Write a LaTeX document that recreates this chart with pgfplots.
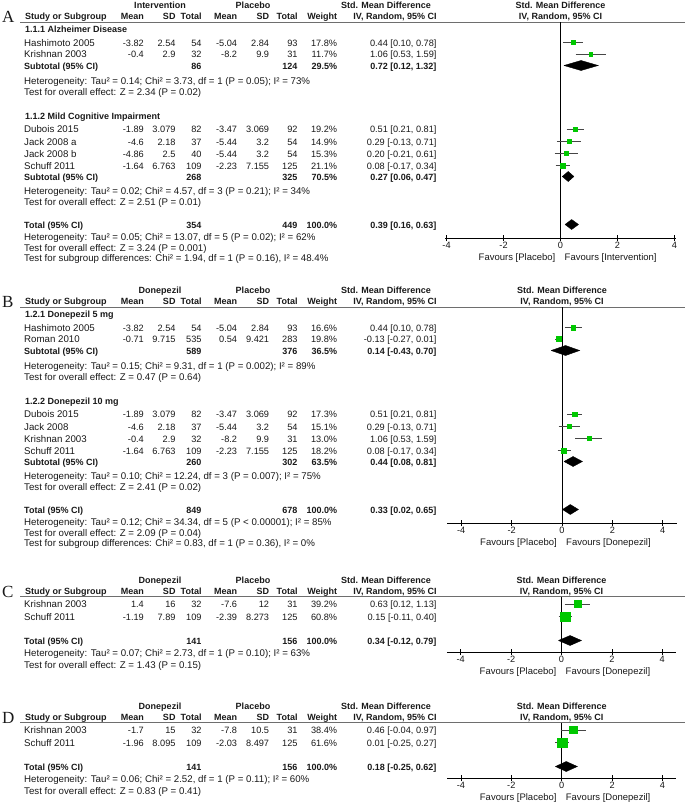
\documentclass[border=0pt]{standalone}
\usepackage{fontspec}
\setmainfont{Liberation Sans}
\newfontfamily\seriff{Liberation Serif}
\usepackage{pgfplots}
\pgfplotsset{compat=1.18}
\definecolor{fpgreen}{RGB}{0,200,0}
\definecolor{txt}{RGB}{25,25,25}
\definecolor{cicol}{RGB}{70,70,70}
\definecolor{rulecol}{RGB}{110,110,110}
\newcommand\fs{\fontsize{9.7}{11}\selectfont}
\newcommand\fn{\fontsize{9.2}{11}\selectfont}
\newcommand\fb{\fontsize{9.0}{11}\selectfont\bfseries}
\newcommand\ff{\fontsize{9.5}{11}\selectfont}
\newcommand\tf{\fontsize{9.2}{10}\selectfont}
\tikzset{
 L/.style={inner sep=0pt, anchor=base west, font=\fs, text=txt},
 R/.style={inner sep=0pt, anchor=base east, font=\fn, text=txt},
 LB/.style={inner sep=0pt, anchor=base west, font=\fb, text=txt},
 RB/.style={inner sep=0pt, anchor=base east, font=\fb, text=txt},
 CB/.style={inner sep=0pt, anchor=base, font=\fb, text=txt},
 FL/.style={inner sep=0pt, anchor=base west, font=\ff, text=txt},
 FR/.style={inner sep=0pt, anchor=base east, font=\ff, text=txt},
 rule/.style={draw=rulecol, line width=1pt},
}
% study row: y name m1 sd1 n1 m2 sd2 n2 w
\newcommand\sr[9]{%
 \node[L] at (24,#1) {#2};
 \node[R] at (144,#1) {#3};
 \node[R] at (175.7,#1) {#4};
 \node[R] at (201.7,#1) {#5};
 \node[R] at (237.3,#1) {#6};
 \node[R] at (269.3,#1) {#7};
 \node[R] at (297.7,#1) {#8};
 \node[R] at (337.3,#1) {#9};}
\newcommand\ci[2]{\node[R] at (436.7,#1) {#2};}
% total row: y label n1 n2 w ci
\newcommand\tot[6]{%
 \node[LB] at (24,#1) {#2};
 \node[RB] at (201.7,#1) {#3};
 \node[RB] at (297.7,#1) {#4};
 \node[RB] at (337.3,#1) {#5};
 \node[RB] at (436.7,#1) {#6};}
% header: y(baseline row 2) grp1 grp2 zero-x
\newcommand\hd[4]{%
 \node[CB] at (160,#1-11.5) {#2};
 \node[CB] at (253,#1-11.5) {#3};
 \node[CB] at (386,#1-11.5) {Std. Mean Difference};
 \node[CB] at (#4,#1-11.5) {Std. Mean Difference};
 \node[LB] at (25,#1) {Study or Subgroup};
 \node[RB] at (144,#1) {Mean};
 \node[RB] at (175.7,#1) {SD};
 \node[RB] at (201.7,#1) {Total};
 \node[RB] at (237.3,#1) {Mean};
 \node[RB] at (269.3,#1) {SD};
 \node[RB] at (297.7,#1) {Total};
 \node[RB] at (337.3,#1) {Weight};
 \node[CB] at (395,#1) {IV, Random, 95\% CI};
 \node[CB] at (#4,#1) {IV, Random, 95\% CI};}
\newcommand\tx[2]{\node[L] at (24,#1) {#2};}
\newcommand\grp[2]{\node[LB] at (25,#1) {#2};}
\newcommand\fav[4]{% y zero left right
 \node[FR] at (#2-5,#1) {#3};
 \node[FL] at (#2+4,#1) {#4};}
\newcommand\letter[2]{\node[inner sep=0pt, anchor=base west, font=\seriff\fontsize{17}{17}\selectfont, text=txt] at (2,#1) {#2};}

\pgfplotsset{
 fp/.style={scale only axis, clip=false, axis x line*=bottom, axis y line=none,
   xtick={-4,-2,0,2,4}, xticklabels={-4,-2,0,2,4}, xtick align=center,
   major tick length=6pt, tick style={black, line width=0.8pt},
   axis line style={black, line width=0.8pt},
   xticklabel style={font=\tf, inner sep=0pt, text=txt, yshift=-0.5pt},
   anchor=south west},
 cil/.style={cicol, line width=0.9pt, mark=none, forget plot},
 sq/.style={only marks, mark=square*, mark size=#1, mark options={draw=fpgreen, fill=fpgreen}, forget plot},
 dia/.style={draw=black, fill=black, mark=none, line width=0.4pt, forget plot},
 zl/.style={black, line width=0.8pt, mark=none, forget plot},
}

\begin{document}
\begin{tikzpicture}
\useasboundingbox (0pt,0pt) rectangle (685pt,-803pt);
\begin{scope}[x=1pt,y=-1pt]
% ================= Panel A =================
\letter{22}{A}
\hd{19.8}{Intervention}{Placebo}{560.5}
\draw[rule] (20,22) -- (685,22);
\grp{32.5}{1.1.1 Alzheimer Disease}
\sr{46}{Hashimoto 2005}{-3.82}{2.54}{54}{-5.04}{2.84}{93}{17.8\%}\ci{46}{0.44 [0.10, 0.78]}
\sr{57.5}{Krishnan 2003}{-0.4}{2.9}{32}{-8.2}{9.9}{31}{11.7\%}\ci{57.5}{1.06 [0.53, 1.59]}
\tot{69}{Subtotal (95\% CI)}{86}{124}{29.5\%}{0.72 [0.12, 1.32]}
\tx{84.5}{Heterogeneity: Tau² = 0.14; Chi² = 3.73, df = 1 (P = 0.05); I² = 73\%}
\tx{95}{Test for overall effect: Z = 2.34 (P = 0.02)}
\grp{119}{1.1.2 Mild Cognitive Impairment}
\sr{132.5}{Dubois 2015}{-1.89}{3.079}{82}{-3.47}{3.069}{92}{19.2\%}\ci{132.5}{0.51 [0.21, 0.81]}
\sr{145}{Jack 2008 a}{-4.6}{2.18}{37}{-5.44}{3.2}{54}{14.9\%}\ci{145}{0.29 [-0.13, 0.71]}
\sr{157}{Jack 2008 b}{-4.86}{2.5}{40}{-5.44}{3.2}{54}{15.3\%}\ci{157}{0.20 [-0.21, 0.61]}
\sr{169}{Schuff 2011}{-1.64}{6.763}{109}{-2.23}{7.155}{125}{21.1\%}\ci{169}{0.08 [-0.17, 0.34]}
\tot{180}{Subtotal (95\% CI)}{268}{325}{70.5\%}{0.27 [0.06, 0.47]}
\tx{194}{Heterogeneity: Tau² = 0.02; Chi² = 4.57, df = 3 (P = 0.21); I² = 34\%}
\tx{205}{Test for overall effect: Z = 2.51 (P = 0.01)}
\tot{228}{Total (95\% CI)}{354}{449}{100.0\%}{0.39 [0.16, 0.63]}
\tx{240.5}{Heterogeneity: Tau² = 0.05; Chi² = 13.07, df = 5 (P = 0.02); I² = 62\%}
\tx{251}{Test for overall effect: Z = 3.24 (P = 0.001)}
\tx{261.8}{Test for subgroup differences: Chi² = 1.94, df = 1 (P = 0.16), I² = 48.4\%}
\fav{260}{560.5}{Favours [Placebo]}{Favours [Intervention]}
% ================= Panel B =================
\begin{scope}[yshift=-285pt]
\letter{22}{B}
\hd{19.8}{Donepezil}{Placebo}{562}
\draw[rule] (20,22) -- (685,22);
\grp{32.5}{1.2.1 Donepezil 5 mg}
\sr{46}{Hashimoto 2005}{-3.82}{2.54}{54}{-5.04}{2.84}{93}{16.6\%}\ci{46}{0.44 [0.10, 0.78]}
\sr{57.5}{Roman 2010}{-0.71}{9.715}{535}{0.54}{9.421}{283}{19.8\%}\ci{57.5}{-0.13 [-0.27, 0.01]}
\tot{69}{Subtotal (95\% CI)}{589}{376}{36.5\%}{0.14 [-0.43, 0.70]}
\tx{84.5}{Heterogeneity: Tau² = 0.15; Chi² = 9.31, df = 1 (P = 0.002); I² = 89\%}
\tx{95}{Test for overall effect: Z = 0.47 (P = 0.64)}
\grp{119}{1.2.2 Donepezil 10 mg}
\sr{132.5}{Dubois 2015}{-1.89}{3.079}{82}{-3.47}{3.069}{92}{17.3\%}\ci{132.5}{0.51 [0.21, 0.81]}
\sr{145}{Jack 2008}{-4.6}{2.18}{37}{-5.44}{3.2}{54}{15.1\%}\ci{145}{0.29 [-0.13, 0.71]}
\sr{157}{Krishnan 2003}{-0.4}{2.9}{32}{-8.2}{9.9}{31}{13.0\%}\ci{157}{1.06 [0.53, 1.59]}
\sr{169}{Schuff 2011}{-1.64}{6.763}{109}{-2.23}{7.155}{125}{18.2\%}\ci{169}{0.08 [-0.17, 0.34]}
\tot{180}{Subtotal (95\% CI)}{260}{302}{63.5\%}{0.44 [0.08, 0.81]}
\tx{194}{Heterogeneity: Tau² = 0.10; Chi² = 12.24, df = 3 (P = 0.007); I² = 75\%}
\tx{205}{Test for overall effect: Z = 2.41 (P = 0.02)}
\tot{228}{Total (95\% CI)}{849}{678}{100.0\%}{0.33 [0.02, 0.65]}
\tx{240.5}{Heterogeneity: Tau² = 0.12; Chi² = 34.34, df = 5 (P < 0.00001); I² = 85\%}
\tx{251}{Test for overall effect: Z = 2.09 (P = 0.04)}
\tx{261.8}{Test for subgroup differences: Chi² = 0.83, df = 1 (P = 0.36), I² = 0\%}
\fav{260}{562}{Favours [Placebo]}{Favours [Donepezil]}
\end{scope}
% ================= Panel C =================
\begin{scope}[yshift=-574pt]
\letter{23.7}{C}
\hd{20.5}{Donepezil}{Placebo}{561.5}
\draw[rule] (20,22.7) -- (685,22.7);
\sr{33.5}{Krishnan 2003}{1.4}{16}{32}{-7.6}{12}{31}{39.2\%}\ci{33.5}{0.63 [0.12, 1.13]}
\sr{46}{Schuff 2011}{-1.19}{7.89}{109}{-2.39}{8.273}{125}{60.8\%}\ci{46}{0.15 [-0.11, 0.40]}
\tot{70}{Total (95\% CI)}{141}{156}{100.0\%}{0.34 [-0.12, 0.79]}
\tx{82.5}{Heterogeneity: Tau² = 0.07; Chi² = 2.73, df = 1 (P = 0.10); I² = 63\%}
\tx{94.5}{Test for overall effect: Z = 1.43 (P = 0.15)}
\fav{100.2}{561.5}{Favours [Placebo]}{Favours [Donepezil]}
\end{scope}
% ================= Panel D =================
\begin{scope}[yshift=-700pt]
\letter{23.7}{D}
\hd{20.5}{Donepezil}{Placebo}{561.7}
\draw[rule] (20,22.7) -- (685,22.7);
\sr{33.5}{Krishnan 2003}{-1.7}{15}{32}{-7.8}{10.5}{31}{38.4\%}\ci{33.5}{0.46 [-0.04, 0.97]}
\sr{46}{Schuff 2011}{-1.96}{8.095}{109}{-2.03}{8.497}{125}{61.6\%}\ci{46}{0.01 [-0.25, 0.27]}
\tot{70}{Total (95\% CI)}{141}{156}{100.0\%}{0.18 [-0.25, 0.62]}
\tx{82.5}{Heterogeneity: Tau² = 0.06; Chi² = 2.52, df = 1 (P = 0.11); I² = 60\%}
\tx{94.5}{Test for overall effect: Z = 0.83 (P = 0.41)}
\fav{100.2}{561.7}{Favours [Placebo]}{Favours [Donepezil]}
\end{scope}
\end{scope}

% ---------- Axis A ----------
\begin{axis}[fp, at={(445.1pt,-238.3pt)}, width=230.85pt, height=216.3pt,
  xmin=-4.05, xmax=4.05, ymin=-238.3, ymax=-22]
\addplot[zl] coordinates {(0,-22) (0,-238.3)};
\addplot[cil] coordinates {(0.10,-42.5) (0.78,-42.5)};
\addplot[sq=2.1pt] coordinates {(0.44,-42.5)};
\addplot[cil] coordinates {(0.53,-54) (1.59,-54)};
\addplot[sq=1.75pt] coordinates {(1.06,-54)};
\addplot[dia] coordinates {(0.12,-65.5) (0.72,-60.5) (1.32,-65.5) (0.72,-70.5) (0.12,-65.5)};
\addplot[cil] coordinates {(0.21,-129) (0.81,-129)};
\addplot[sq=2.3pt] coordinates {(0.51,-129)};
\addplot[cil] coordinates {(-0.13,-141.5) (0.71,-141.5)};
\addplot[sq=2.0pt] coordinates {(0.29,-141.5)};
\addplot[cil] coordinates {(-0.21,-153.5) (0.61,-153.5)};
\addplot[sq=2.05pt] coordinates {(0.20,-153.5)};
\addplot[cil] coordinates {(-0.17,-165.5) (0.34,-165.5)};
\addplot[sq=2.5pt] coordinates {(0.08,-165.5)};
\addplot[dia] coordinates {(0.06,-176.5) (0.27,-171.5) (0.47,-176.5) (0.27,-181.5) (0.06,-176.5)};
\addplot[dia] coordinates {(0.16,-224.5) (0.39,-219.5) (0.63,-224.5) (0.39,-229.5) (0.16,-224.5)};
\end{axis}

% ---------- Axis B ----------
\begin{axis}[fp, at={(447.34pt,-523.3pt)}, width=229.32pt, height=216.3pt,
  xmin=-4.55, xmax=4.55, ymin=-523.3, ymax=-307]
\addplot[zl] coordinates {(0,-307) (0,-523.3)};
\addplot[cil] coordinates {(0.10,-327.5) (0.78,-327.5)};
\addplot[sq=2.2pt] coordinates {(0.44,-327.5)};
\addplot[cil] coordinates {(-0.27,-339) (0.01,-339)};
\addplot[sq=2.45pt] coordinates {(-0.13,-339)};
\addplot[dia] coordinates {(-0.43,-350.5) (0.14,-345.5) (0.70,-350.5) (0.14,-355.5) (-0.43,-350.5)};
\addplot[cil] coordinates {(0.21,-414) (0.81,-414)};
\addplot[sq=2.3pt] coordinates {(0.51,-414)};
\addplot[cil] coordinates {(-0.13,-426.5) (0.71,-426.5)};
\addplot[sq=2.1pt] coordinates {(0.29,-426.5)};
\addplot[cil] coordinates {(0.53,-438.5) (1.59,-438.5)};
\addplot[sq=2.0pt] coordinates {(1.06,-438.5)};
\addplot[cil] coordinates {(-0.17,-450.5) (0.34,-450.5)};
\addplot[sq=2.35pt] coordinates {(0.08,-450.5)};
\addplot[dia] coordinates {(0.08,-461.5) (0.44,-456.5) (0.81,-461.5) (0.44,-466.5) (0.08,-461.5)};
\addplot[dia] coordinates {(0.02,-509.5) (0.33,-504.5) (0.65,-509.5) (0.33,-514.5) (0.02,-509.5)};
\end{axis}

% ---------- Axis C ----------
\begin{axis}[fp, at={(446.84pt,-652.3pt)}, width=229.32pt, height=55.6pt,
  xmin=-4.55, xmax=4.55, ymin=-652.3, ymax=-596.7]
\addplot[zl] coordinates {(0,-596.7) (0,-652.3)};
\addplot[cil] coordinates {(0.12,-604) (1.13,-604)};
\addplot[sq=3.45pt] coordinates {(0.63,-604)};
\addplot[cil] coordinates {(-0.11,-616.5) (0.40,-616.5)};
\addplot[sq=4.6pt] coordinates {(0.15,-616.5)};
\addplot[dia] coordinates {(-0.12,-640.5) (0.34,-635.5) (0.79,-640.5) (0.34,-645.5) (-0.12,-640.5)};
\end{axis}

% ---------- Axis D ----------
\begin{axis}[fp, at={(447.04pt,-778.3pt)}, width=229.32pt, height=55.6pt,
  xmin=-4.55, xmax=4.55, ymin=-778.3, ymax=-722.7]
\addplot[zl] coordinates {(0,-722.7) (0,-778.3)};
\addplot[cil] coordinates {(-0.04,-730) (0.97,-730)};
\addplot[sq=3.6pt] coordinates {(0.46,-730)};
\addplot[cil] coordinates {(-0.25,-742.5) (0.27,-742.5)};
\addplot[sq=4.8pt] coordinates {(0.01,-742.5)};
\addplot[dia] coordinates {(-0.25,-766.5) (0.18,-761.5) (0.62,-766.5) (0.18,-771.5) (-0.25,-766.5)};
\end{axis}
\end{tikzpicture}
\end{document}
